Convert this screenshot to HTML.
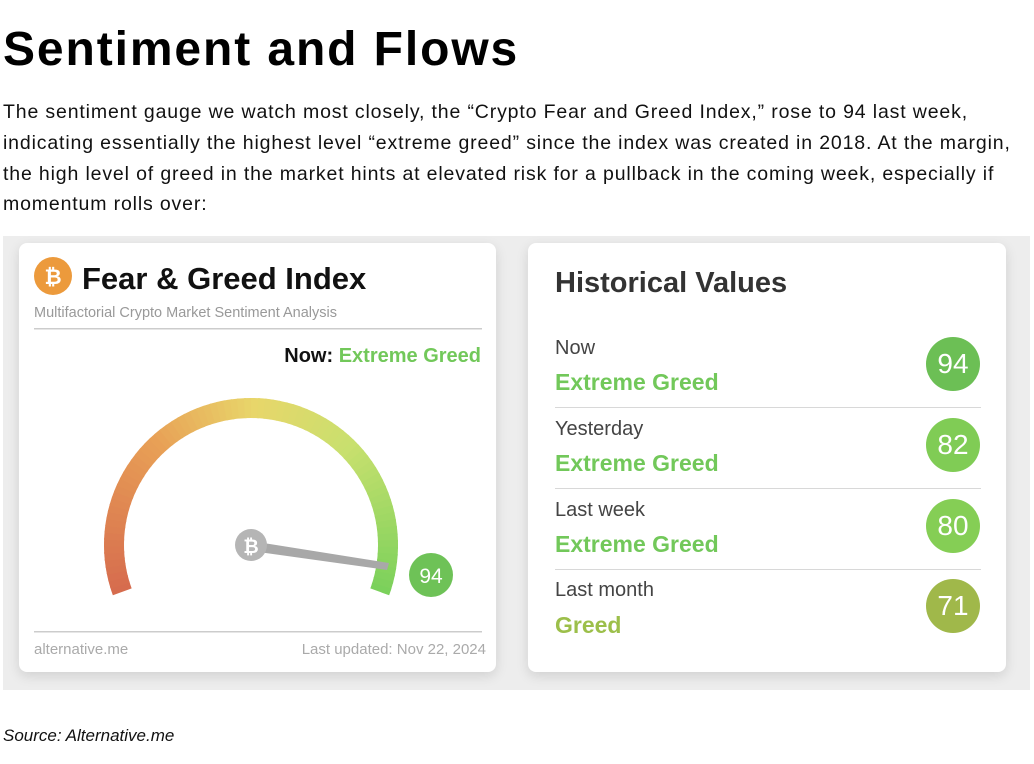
<!DOCTYPE html>
<html><head><style>
body{margin:0;width:1034px;height:764px;background:#fff;font-family:"Liberation Sans",sans-serif;position:relative;overflow:hidden}
h1{position:absolute;left:3px;top:22px;margin:0;font-size:48px;font-weight:bold;letter-spacing:1.9px;color:#000;white-space:nowrap}
p.t{position:absolute;left:3px;top:97px;margin:0;font-size:19.5px;letter-spacing:0.85px;line-height:30.8px;color:#111;white-space:nowrap}
.bg{position:absolute;left:3px;top:236px;width:1027px;height:454px;background:#ededed}
.card{position:absolute;background:#fff;border-radius:8px;box-shadow:0 4px 12px rgba(0,0,0,0.12)}
.src{position:absolute;left:3px;top:726px;font-size:17px;font-style:italic;color:#111}
.lbl{position:absolute;left:27px;font-size:20px;color:#444}
.val{position:absolute;left:27px;font-size:23px;font-weight:bold;color:#72c85a}
.bub{position:absolute;left:398px;width:54px;height:54px;border-radius:50%;color:#fff;font-size:28px;text-align:center;line-height:54px}
.hr{position:absolute;left:27px;width:426px;height:1px;background:#d8d8d8}
</style></head><body>
<h1>Sentiment and Flows</h1>
<p class="t">The sentiment gauge we watch most closely, the “Crypto Fear and Greed Index,” rose to 94 last week,<br>indicating essentially the highest level “extreme greed” since the index was created in 2018. At the margin,<br>the high level of greed in the market hints at elevated risk for a pullback in the coming week, especially if<br>momentum rolls over:</p>
<div class="bg"></div>
<div class="card" style="left:19px;top:243px;width:477px;height:429px">
<svg width="477" height="429" style="position:absolute;left:0;top:0">
<circle cx="34" cy="33" r="19" fill="#ec9a3c"/>
<text x="34" y="41" font-family="Liberation Sans" font-weight="bold" font-size="21" fill="#fff" text-anchor="middle">₿</text>
<text x="63" y="46" font-family="Liberation Sans" font-weight="bold" font-size="31" fill="#111">Fear &amp; Greed Index</text>
<text x="15" y="74" font-family="Liberation Sans" font-size="14.5" fill="#999">Multifactorial Crypto Market Sentiment Analysis</text>
<rect x="15" y="85" width="448" height="1.5" fill="#ccc"/>
<text x="462" y="119" font-family="Liberation Sans" font-weight="bold" font-size="20" text-anchor="end"><tspan fill="#111">Now: </tspan><tspan fill="#72c85a">Extreme Greed</tspan></text>
<g id="arc"></g>
<polygon points="232,298 370,320 368,327 232,308" fill="#a8a8a8"/>
<circle cx="232" cy="302" r="16" fill="#b5b5b5"/>
<text x="232" y="310" font-family="Liberation Sans" font-weight="bold" font-size="19" fill="#fff" text-anchor="middle">₿</text>
<circle cx="412" cy="332" r="22" fill="#6ec257"/>
<text x="412" y="340" font-family="Liberation Sans" font-size="21" fill="#fff" text-anchor="middle">94</text>
<rect x="15" y="388" width="448" height="1.5" fill="#ccc"/>
<text x="15" y="411" font-family="Liberation Sans" font-size="15" fill="#aaa">alternative.me</text>
<text x="467" y="411" font-family="Liberation Sans" font-size="15" fill="#aaa" text-anchor="end">Last updated: Nov 22, 2024</text>
</svg>
</div>
<div class="card" style="left:528px;top:243px;width:478px;height:429px">
<div style="position:absolute;left:27px;top:24px;font-size:29px;font-weight:bold;color:#333">Historical Values</div>
<div class="lbl" style="top:94px">Now</div><div class="val" style="top:126px">Extreme Greed</div>
<div class="bub" style="top:94px;background:#6cbf55">94</div>
<div class="hr" style="top:164px"></div>
<div class="lbl" style="top:175px">Yesterday</div><div class="val" style="top:207px">Extreme Greed</div>
<div class="bub" style="top:175px;background:#80cc55">82</div>
<div class="hr" style="top:245px"></div>
<div class="lbl" style="top:256px">Last week</div><div class="val" style="top:288px">Extreme Greed</div>
<div class="bub" style="top:256px;background:#85ce55">80</div>
<div class="hr" style="top:326px"></div>
<div class="lbl" style="top:336px">Last month</div><div class="val" style="top:369px;color:#9cbf4a">Greed</div>
<div class="bub" style="top:336px;background:#a0b84a">71</div>
</div>
<div class="src">Source: Alternative.me</div>
<script>
(function(){
var g=document.getElementById('arc'),cx=232,cy=302,r=137,ns='http://www.w3.org/2000/svg';
var stops=[[0,[214,108,78]],[0.3,[232,160,86]],[0.5,[232,214,106]],[0.7,[200,224,110]],[1,[120,208,90]]];
function col(t){for(var i=1;i<stops.length;i++){if(t<=stops[i][0]){var a=stops[i-1],b=stops[i],f=(t-a[0])/(b[0]-a[0]);return 'rgb('+a[1].map(function(v,k){return Math.round(v+(b[1][k]-v)*f)}).join(',')+')';}}return 'rgb(120,208,90)';}
var a0=200,a1=-20,N=80;
for(var i=0;i<N;i++){var s=a0+(a1-a0)*i/N,e=a0+(a1-a0)*(i+1.3)/N;if(i==N-1)e=a1;
var p=document.createElementNS(ns,'path');
var x1=cx+r*Math.cos(s*Math.PI/180),y1=cy-r*Math.sin(s*Math.PI/180),x2=cx+r*Math.cos(e*Math.PI/180),y2=cy-r*Math.sin(e*Math.PI/180);
p.setAttribute('d','M'+x1+' '+y1+' A'+r+' '+r+' 0 0 1 '+x2+' '+y2);
p.setAttribute('stroke',col(i/N));p.setAttribute('stroke-width','20');p.setAttribute('fill','none');g.appendChild(p);}
})();
</script>
</body></html>
